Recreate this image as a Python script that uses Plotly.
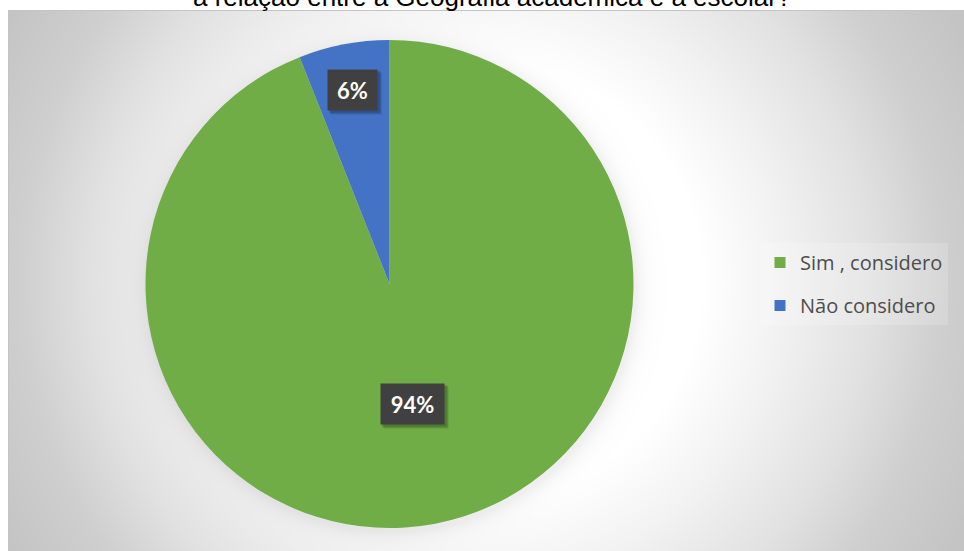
import numpy as np
import plotly.graph_objects as go

# Survey answers
labels = ["Sim , considero", "Não considero"]
values = [94, 6]
colors = ["#70AD47", "#4472C4"]
label_radius = [0.5, 0.81]  # distance of each value label from the centre, as a share of the radius
title_line = "a relação entre a Geografia acadêmica e a escolar?"

W, H = 964, 551
cx, cy, R = 389.5, 284.0, 244.0  # pie centre / radius in pixels
frame_x0, frame_y0 = 8, 10

# Background: radial grey-to-white fill with a soft drop shadow under the pie
gx = np.arange(frame_x0 + 1.5, W + 6, 3.0)
gy = np.arange(frame_y0 + 1.5, H + 6, 3.0)
X, Y = np.meshgrid(gx, gy)
dist = np.hypot(X - 480, Y - 280)
shade = np.interp(dist, [0, 220, 300, 390, 460, 540, 700],
                  [255, 255, 242, 225, 207, 196, 190])
edge = np.hypot(X - (cx + 1), Y - (cy + 3)) - R
shade = shade - 16 * np.exp(-np.clip(edge, 0, None) / 9)

fig = go.Figure()
fig.add_trace(go.Heatmap(
    x=gx, y=gy, z=shade, zmin=0, zmax=255,
    colorscale=[[0, "#000000"], [1, "#ffffff"]],
    showscale=False, zsmooth="best", hoverinfo="skip",
))

fig.add_trace(go.Pie(
    labels=labels, values=values, sort=False,
    direction="clockwise", rotation=0,
    marker=dict(colors=colors, line=dict(width=0)),
    textinfo="none", hoverinfo="skip", showlegend=False,
    domain=dict(x=[(cx - R) / W, (cx + R) / W],
                y=[(H - cy - R) / H, (H - cy + R) / H]),
))

# Legend entries
for i, (lab, col) in enumerate(zip(labels, colors)):
    fig.add_trace(go.Scatter(
        x=[None], y=[None], mode="markers", name=lab,
        legendgroup=f"g{i}",
        marker=dict(symbol="square", size=11, color=col),
    ))

# Value labels in dark boxes, placed at each slice's mid-angle
total = float(sum(values))
start = 0.0
pad, box_h = 7, 26
for v, f in zip(values, label_radius):
    mid = (start + v / 2) / total * 2 * np.pi
    start += v
    px = cx + f * R * np.sin(mid)
    py = cy - f * R * np.cos(mid)
    txt = f"{round(v / total * 100)}%"
    box_w = 14 * len(txt) + 7
    # soft box shadow, offset down-right
    for k, a in ((4, 0.08), (3, 0.12), (2, 0.12)):
        fig.add_shape(type="rect", xref="x", yref="y", layer="above",
                      x0=px - box_w / 2 - pad + k - 1, x1=px + box_w / 2 + pad + k + 1,
                      y0=py - box_h / 2 - pad + k - 1, y1=py + box_h / 2 + pad + k + 1,
                      line=dict(width=0), fillcolor=f"rgba(0,0,0,{a})")
    fig.add_annotation(x=px, y=py, xref="x", yref="y", text=f"<b>{txt}</b>",
                       showarrow=False, width=box_w, height=box_h,
                       font=dict(family="Lato", size=22, color="#ffffff"),
                       bgcolor="#404040", borderpad=pad)

# Title line (partly above the page edge)
fig.add_annotation(x=491.5, y=14, xref="x", yref="y", yanchor="bottom",
                   text=title_line, showarrow=False,
                   font=dict(family="Liberation Sans", size=26, color="#000000"))

# Chart frame
fig.add_shape(type="rect", xref="x", yref="y",
              x0=frame_x0 + 0.5, y0=frame_y0 + 0.5, x1=W + 5, y1=H + 5,
              line=dict(color="#c4c4c4", width=1), fillcolor="rgba(0,0,0,0)")

fig.update_layout(
    width=W, height=H,
    margin=dict(l=0, r=0, t=0, b=0),
    paper_bgcolor="#ffffff", plot_bgcolor="rgba(0,0,0,0)",
    xaxis=dict(range=[0, W], visible=False, fixedrange=True, domain=[0, 1]),
    yaxis=dict(range=[H, 0], visible=False, fixedrange=True, domain=[0, 1]),
    showlegend=True,
    legend=dict(
        x=760 / W, y=1 - 243 / H, xanchor="left", yanchor="top",
        bgcolor="rgba(255,255,255,0.18)", tracegroupgap=14,
        font=dict(family="Open Sans", size=20, color="#4d4d4d"),
        itemclick=False, itemdoubleclick=False,
    ),
)

fig.write_html("out.html")
